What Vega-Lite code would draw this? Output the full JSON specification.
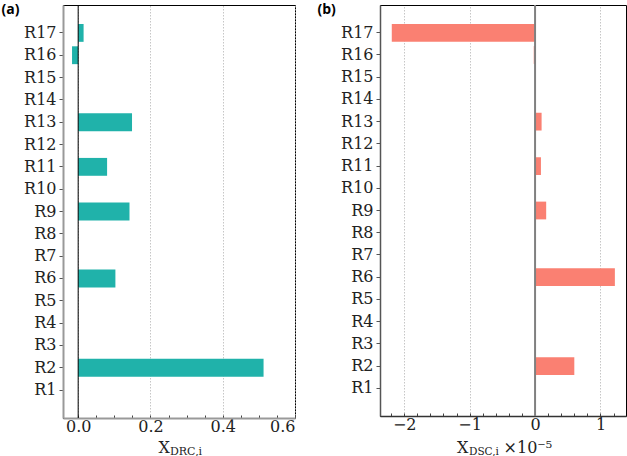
{
  "$schema": "https://vega.github.io/schema/vega-lite/v6.json",
  "autosize": {"type": "pad"},
  "padding": {"left": 0, "top": 1, "right": 1, "bottom": 0},
  "background": "white",
  "spacing": 85,
  "bounds": "flush",
  "config": {
    "view": {"stroke": "black", "strokeWidth": 1},
    "axis": {
      "labelFont": "DejaVu Serif",
      "labelFontSize": 16,
      "labelColor": "#222222",
      "titleFont": "DejaVu Serif",
      "titleFontSize": 16,
      "titleFontWeight": "normal",
      "titleColor": "#222222"
    }
  },
  "hconcat": [
    {
      "width": 232,
      "height": 413,
      "data": {
        "values": [
          {"reaction": "R1", "x_drc": 0},
          {"reaction": "R2", "x_drc": 0.513},
          {"reaction": "R3", "x_drc": 0},
          {"reaction": "R4", "x_drc": 0},
          {"reaction": "R5", "x_drc": 0},
          {"reaction": "R6", "x_drc": 0.103},
          {"reaction": "R7", "x_drc": 0},
          {"reaction": "R8", "x_drc": 0},
          {"reaction": "R9", "x_drc": 0.142},
          {"reaction": "R10", "x_drc": 0},
          {"reaction": "R11", "x_drc": 0.080},
          {"reaction": "R12", "x_drc": 0},
          {"reaction": "R13", "x_drc": 0.149},
          {"reaction": "R14", "x_drc": 0},
          {"reaction": "R15", "x_drc": 0},
          {"reaction": "R16", "x_drc": -0.017},
          {"reaction": "R17", "x_drc": 0.015}
        ]
      },
      "layer": [
        {
          "mark": {"type": "bar", "color": "#20B2AA"},
          "encoding": {
            "y": {
              "field": "reaction",
              "type": "nominal",
              "sort": ["R17", "R16", "R15", "R14", "R13", "R12", "R11", "R10", "R9", "R8", "R7", "R6", "R5", "R4", "R3", "R2", "R1"],
              "scale": {"paddingInner": 0.2, "paddingOuter": 0.85},
              "axis": {
                "title": "(a)",
                "titleFont": "Open Sans",
                "titleFontWeight": "bold",
                "titleFontSize": 14,
                "titleColor": "#000000",
                "titleAngle": 0,
                "titleAlign": "left",
                "titleBaseline": "top",
                "titleX": -62,
                "titleY": -3,
                "domainColor": "#999999",
                "domainWidth": 2,
                "tickColor": "#555555",
                "tickSize": 4,
                "labelPadding": 3,
                "grid": false
              }
            },
            "x": {
              "field": "x_drc",
              "type": "quantitative",
              "scale": {"domain": [-0.042, 0.6], "nice": false, "zero": false},
              "axis": {
                "orient": "bottom",
                "values": [0, 0.05, 0.1, 0.15, 0.2, 0.25, 0.3, 0.35, 0.4, 0.45, 0.5, 0.55, 0.6],
                "labelExpr": "abs(round(datum.value * 20)) % 4 == 0 ? format(datum.value, '.1f') : ''",
                "tickSize": -3,
                "tickColor": "#444444",
                "labelPadding": 3,
                "domainColor": "#999999",
                "domainWidth": 2,
                "grid": true,
                "gridColor": "#b8b8b8",
                "gridDash": [1.5, 1.5],
                "gridWidth": 0.8,
                "gridOpacity": {"condition": {"test": "abs(round(datum.value * 20)) % 4 == 0", "value": 1}, "value": 0},
                "title": "X",
                "titleAlign": "left",
                "titleBaseline": "alphabetic",
                "titleX": 95,
                "titleY": 34
              }
            }
          }
        },
        {
          "data": {"values": [{"origin": 0}]},
          "mark": {"type": "rule", "color": "#000000", "strokeWidth": 1},
          "encoding": {
            "x": {
              "field": "origin",
              "type": "quantitative",
              "axis": {
                "orient": "bottom",
                "labels": false,
                "ticks": false,
                "domain": false,
                "grid": false,
                "title": "DRC,i",
                "titleFontSize": 11,
                "titleAlign": "left",
                "titleBaseline": "alphabetic",
                "titleX": 106.5,
                "titleY": 36.5
              }
            }
          }
        }
      ],
      "resolve": {"axis": {"x": "independent"}}
    },
    {
      "width": 246,
      "height": 411,
      "data": {
        "values": [
          {"reaction": "R1", "x_dsc_e5": 0},
          {"reaction": "R2", "x_dsc_e5": 0.60},
          {"reaction": "R3", "x_dsc_e5": 0},
          {"reaction": "R4", "x_dsc_e5": 0},
          {"reaction": "R5", "x_dsc_e5": 0},
          {"reaction": "R6", "x_dsc_e5": 1.22},
          {"reaction": "R7", "x_dsc_e5": 0},
          {"reaction": "R8", "x_dsc_e5": 0},
          {"reaction": "R9", "x_dsc_e5": 0.17},
          {"reaction": "R10", "x_dsc_e5": 0},
          {"reaction": "R11", "x_dsc_e5": 0.09},
          {"reaction": "R12", "x_dsc_e5": 0},
          {"reaction": "R13", "x_dsc_e5": 0.10},
          {"reaction": "R14", "x_dsc_e5": 0},
          {"reaction": "R15", "x_dsc_e5": 0},
          {"reaction": "R16", "x_dsc_e5": -0.02},
          {"reaction": "R17", "x_dsc_e5": -2.19}
        ]
      },
      "layer": [
        {
          "mark": {"type": "bar", "color": "#FA8072"},
          "encoding": {
            "y": {
              "field": "reaction",
              "type": "nominal",
              "sort": ["R17", "R16", "R15", "R14", "R13", "R12", "R11", "R10", "R9", "R8", "R7", "R6", "R5", "R4", "R3", "R2", "R1"],
              "scale": {"paddingInner": 0.2, "paddingOuter": 0.85},
              "axis": {
                "title": "(b)",
                "titleFont": "Open Sans",
                "titleFontWeight": "bold",
                "titleFontSize": 14,
                "titleColor": "#000000",
                "titleAngle": 0,
                "titleAlign": "left",
                "titleBaseline": "top",
                "titleX": -63,
                "titleY": -3,
                "domainColor": "#555555",
                "domainWidth": 1.5,
                "tickColor": "#555555",
                "tickSize": 4,
                "labelPadding": 3,
                "grid": false
              }
            },
            "x": {
              "field": "x_dsc_e5",
              "type": "quantitative",
              "scale": {"domain": [-2.37, 1.39], "nice": false, "zero": false},
              "axis": {
                "orient": "bottom",
                "values": [-2.2, -2, -1.8, -1.6, -1.4, -1.2, -1, -0.8, -0.6, -0.4, -0.2, 0, 0.2, 0.4, 0.6, 0.8, 1, 1.2],
                "labelExpr": "abs(round(datum.value * 5)) % 5 == 0 ? format(datum.value, 'd') : ''",
                "tickSize": -3,
                "tickColor": "#444444",
                "labelPadding": 3,
                "domainColor": "#333333",
                "domainWidth": 1.5,
                "grid": true,
                "gridColor": "#b8b8b8",
                "gridDash": [1.5, 1.5],
                "gridWidth": 0.8,
                "gridOpacity": {"condition": {"test": "abs(round(datum.value * 5)) % 5 == 0", "value": 1}, "value": 0},
                "title": "X\u2003\u2003\u2009×10⁻⁵",
                "titleAlign": "left",
                "titleBaseline": "alphabetic",
                "titleX": 76.5,
                "titleY": 36
              }
            }
          }
        },
        {
          "data": {"values": [{"origin": 0}]},
          "mark": {"type": "rule", "color": "#808080", "strokeWidth": 2},
          "encoding": {
            "x": {
              "field": "origin",
              "type": "quantitative",
              "axis": {
                "orient": "bottom",
                "labels": false,
                "ticks": false,
                "domain": false,
                "grid": false,
                "title": "DSC,i",
                "titleFontSize": 10.5,
                "titleAlign": "left",
                "titleBaseline": "alphabetic",
                "titleX": 88.5,
                "titleY": 38.5
              }
            }
          }
        }
      ],
      "resolve": {"axis": {"x": "independent"}}
    }
  ]
}
